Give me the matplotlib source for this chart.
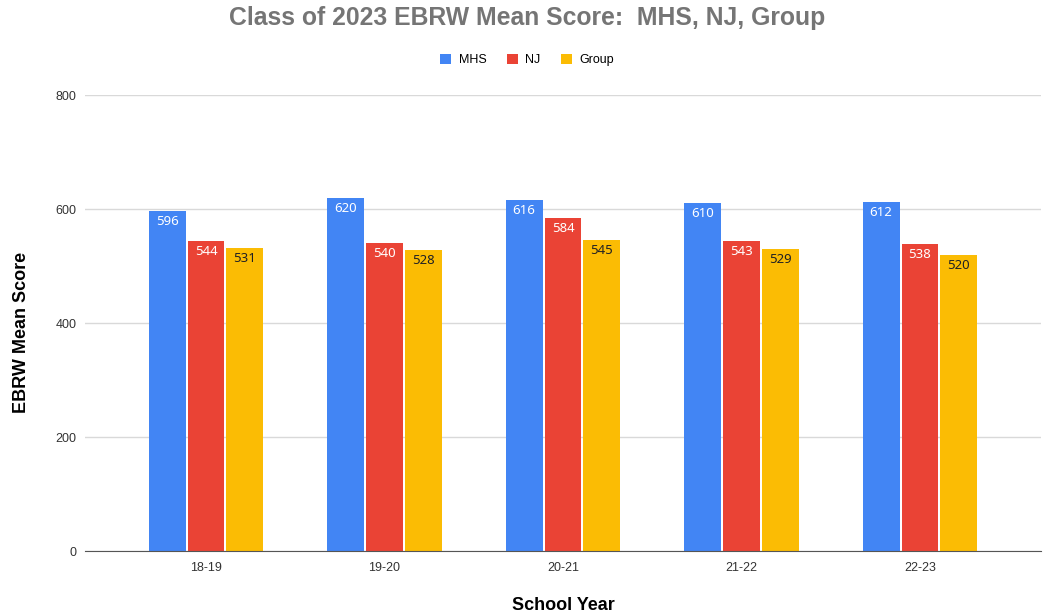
import numpy as np
import matplotlib.pyplot as plt

years = ["18-19", "19-20", "20-21", "21-22", "22-23"]
mhs = [596, 620, 616, 610, 612]
nj = [544, 540, 584, 543, 538]
group = [531, 528, 545, 529, 520]

series = [("MHS", mhs, "#4285F4", "white"),
          ("NJ", nj, "#EA4335", "white"),
          ("Group", group, "#FBBC04", "#202124")]

plt.rcParams['font.family'] = ['Liberation Sans', 'DejaVu Sans']

fig = plt.figure(figsize=(10.43, 6.13), dpi=100)
# axes box in pixels: x 85..1041, y 95..551
ax = fig.add_axes([85 / 1043, 1 - 551 / 613, (1041 - 85) / 1043, (551 - 95) / 613])

x = np.arange(len(years))
step = 0.218
width = 0.207
for k, (name, vals, col, tcol) in enumerate(series):
    pos = x + (k - 1) * step
    bars = ax.bar(pos, vals, width=width, color=col, label=name, zorder=3)
    for b, v in zip(bars, vals):
        ax.text(b.get_x() + b.get_width() / 2, v - 7, str(v), ha="center", va="top",
                fontsize=9.5, color=tcol, family=["Noto Sans", "DejaVu Sans"], zorder=4)

ax.set_xlim(-0.678, 4.678)
ax.set_ylim(0, 800)
ax.set_yticks([0, 200, 400, 600, 800])
ax.yaxis.grid(True, color="#d9d9d9", linewidth=1, zorder=0)
ax.set_xticks(x)
ax.set_xticklabels(years)
ax.tick_params(axis="both", length=0, labelsize=9, colors="#333333", pad=8)
ax.tick_params(axis="y", pad=6)
for s in ["top", "right", "left"]:
    ax.spines[s].set_visible(False)
ax.spines["bottom"].set_color("#555555")
ax.spines["bottom"].set_zorder(5)

ax.set_ylabel("EBRW Mean Score", fontsize=13, fontweight="bold", color="black")
ax.yaxis.set_label_coords(-0.058, 0.48)
fig.text(563 / 1043, 1 - 605 / 613, "School Year", ha="center", va="center",
         fontsize=13, fontweight="bold", color="black")

fig.text(527 / 1043, 1 - 18 / 613, "Class of 2023 EBRW Mean Score:  MHS, NJ, Group",
         ha="center", va="center", fontsize=17.8, fontweight="bold", color="#757575")

ax.legend(loc="center", bbox_to_anchor=(527 / 1043, 1 - 60 / 613),
          bbox_transform=fig.transFigure, ncol=3, frameon=False, fontsize=9,
          handlelength=0.9, handleheight=0.9, handletextpad=0.6, columnspacing=1.6)

fig.savefig("out.png", dpi=100)
